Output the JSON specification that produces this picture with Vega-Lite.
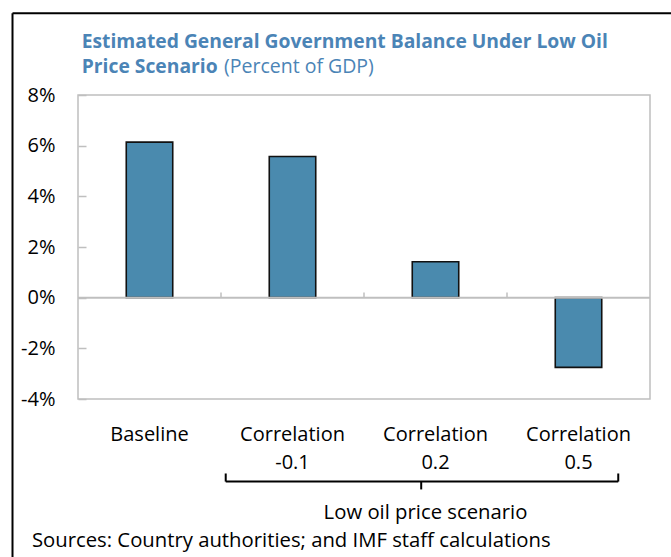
{
  "$schema": "https://vega.github.io/schema/vega-lite/v6.json",
  "width": 572,
  "height": 304,
  "autosize": {"type": "none"},
  "padding": {"left": 78, "top": 95, "right": 21, "bottom": 158},
  "background": "white",
  "config": {
    "view": {"stroke": "#bfbfbf", "strokeWidth": 1.5},
    "font": "Open Sans",
    "text": {"font": "Open Sans"}
  },
  "datasets": {
    "main": [
      {"category": "Baseline", "value": 6.14},
      {"category": "Correlation\n-0.1", "value": 5.57},
      {"category": "Correlation\n0.2", "value": 1.42},
      {"category": "Correlation\n0.5", "value": -2.75}
    ],
    "bounds": [{"b": 1}, {"b": 2}, {"b": 3}],
    "brace": [
      {"x": 1.033, "x2": 3.778, "y": -7.26, "y2": -7.26},
      {"x": 1.033, "x2": 1.033, "y": -6.94, "y2": -7.26},
      {"x": 3.778, "x2": 3.778, "y": -6.94, "y2": -7.26},
      {"x": 2.4, "x2": 2.4, "y": -7.26, "y2": -7.57}
    ],
    "frame": [
      {"x": -0.458, "x2": -0.458, "y": 11.23, "y2": -12},
      {"x": -0.458, "x2": 5, "y": 11.23, "y2": 11.23}
    ],
    "one": [{}]
  },
  "layer": [
    {
      "data": {"name": "main"},
      "mark": {"type": "bar", "fill": "#4a8aae", "stroke": "#111111", "strokeWidth": 1.6, "clip": false},
      "encoding": {
        "x": {
          "field": "category",
          "type": "nominal",
          "sort": null,
          "scale": {"paddingInner": 0.675, "paddingOuter": 0.3375},
          "axis": {
            "title": null,
            "labelAngle": 0,
            "domain": false,
            "ticks": false,
            "labelPadding": 25,
            "labelFontSize": 20,
            "labelColor": "#000000",
            "labelLineHeight": 28,
            "labelExpr": "split(datum.label, '\\n')"
          }
        },
        "y": {
          "field": "value",
          "type": "quantitative",
          "scale": {"domain": [-4, 8], "nice": false, "zero": false},
          "axis": {
            "title": null,
            "values": [-4, -2, 0, 2, 4, 6, 8],
            "labelExpr": "datum.value + '%'",
            "grid": false,
            "domain": false,
            "tickSize": -8,
            "tickColor": "#bfbfbf",
            "tickWidth": 1.5,
            "labelPadding": 31,
            "labelFontSize": 20,
            "labelColor": "#000000"
          }
        }
      }
    },
    {
      "layer": [
        {
          "data": {"name": "one"},
          "mark": {"type": "rule", "color": "#bfbfbf", "strokeWidth": 2, "clip": false},
          "encoding": {
            "y": {"datum": 0, "type": "quantitative", "scale": {"domain": [-4, 8], "nice": false, "zero": false}}
          }
        },
        {
          "data": {"name": "bounds"},
          "mark": {"type": "rule", "color": "#bfbfbf", "strokeWidth": 1.5, "clip": false},
          "encoding": {
            "x": {"field": "b", "type": "quantitative", "scale": {"domain": [0, 4], "nice": false, "zero": false}, "axis": null},
            "y": {"datum": 0, "type": "quantitative", "scale": {"domain": [-4, 8], "nice": false, "zero": false}},
            "y2": {"datum": 0.2}
          }
        },
        {
          "data": {"name": "brace"},
          "mark": {"type": "rule", "color": "#000000", "strokeWidth": 2, "clip": false},
          "encoding": {
            "x": {"field": "x", "type": "quantitative", "scale": {"domain": [0, 4], "nice": false, "zero": false}, "axis": null},
            "x2": {"field": "x2"},
            "y": {"field": "y", "type": "quantitative", "scale": {"domain": [-4, 8], "nice": false, "zero": false}},
            "y2": {"field": "y2"}
          }
        },
        {
          "data": {"name": "frame"},
          "mark": {"type": "rule", "color": "#000000", "strokeWidth": 2, "clip": false},
          "encoding": {
            "x": {"field": "x", "type": "quantitative", "scale": {"domain": [0, 4], "nice": false, "zero": false}, "axis": null},
            "x2": {"field": "x2"},
            "y": {"field": "y", "type": "quantitative", "scale": {"domain": [-4, 8], "nice": false, "zero": false}},
            "y2": {"field": "y2"}
          }
        },
        {
          "data": {"name": "one"},
          "mark": {"type": "text", "text": "Low oil price scenario", "fontSize": 20.3, "align": "center", "baseline": "alphabetic", "color": "#000000", "clip": false},
          "encoding": {
            "x": {"datum": 2.43, "type": "quantitative", "scale": {"domain": [0, 4], "nice": false, "zero": false}, "axis": null},
            "y": {"datum": -8.75, "type": "quantitative", "scale": {"domain": [-4, 8], "nice": false, "zero": false}}
          }
        },
        {
          "data": {"name": "one"},
          "mark": {"type": "text", "text": "Sources: Country authorities; and IMF staff calculations", "fontSize": 20.3, "align": "left", "baseline": "alphabetic", "color": "#000000", "clip": false},
          "encoding": {
            "x": {"datum": -0.322, "type": "quantitative", "scale": {"domain": [0, 4], "nice": false, "zero": false}, "axis": null},
            "y": {"datum": -9.85, "type": "quantitative", "scale": {"domain": [-4, 8], "nice": false, "zero": false}}
          }
        },
        {
          "data": {"name": "one"},
          "mark": {"type": "text", "text": "Estimated General Government Balance Under Low Oil", "fontSize": 19.3, "fontWeight": "bold", "align": "left", "baseline": "alphabetic", "color": "#4b84b6", "clip": false},
          "encoding": {
            "x": {"datum": 0.026, "type": "quantitative", "scale": {"domain": [0, 4], "nice": false, "zero": false}, "axis": null},
            "y": {"datum": 9.852, "type": "quantitative", "scale": {"domain": [-4, 8], "nice": false, "zero": false}}
          }
        },
        {
          "data": {"name": "one"},
          "mark": {"type": "text", "text": "Price Scenario", "fontSize": 19.3, "fontWeight": "bold", "align": "left", "baseline": "alphabetic", "color": "#4b84b6", "clip": false},
          "encoding": {
            "x": {"datum": 0.026, "type": "quantitative", "scale": {"domain": [0, 4], "nice": false, "zero": false}, "axis": null},
            "y": {"datum": 8.867, "type": "quantitative", "scale": {"domain": [-4, 8], "nice": false, "zero": false}}
          }
        },
        {
          "data": {"name": "one"},
          "mark": {"type": "text", "text": "(Percent of GDP)", "fontSize": 19.5, "align": "left", "baseline": "alphabetic", "color": "#4b84b6", "clip": false},
          "encoding": {
            "x": {"datum": 1.021, "type": "quantitative", "scale": {"domain": [0, 4], "nice": false, "zero": false}, "axis": null},
            "y": {"datum": 8.867, "type": "quantitative", "scale": {"domain": [-4, 8], "nice": false, "zero": false}}
          }
        }
      ]
    }
  ],
  "resolve": {"scale": {"x": "independent"}}
}
